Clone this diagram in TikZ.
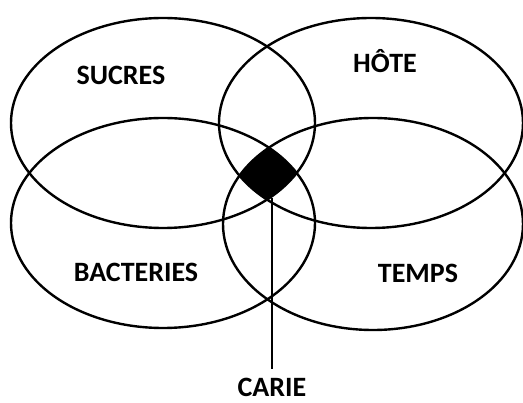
\documentclass[tikz,border=0pt]{standalone}
\usepackage{fontspec}
\setmainfont{Carlito}
\usetikzlibrary{shapes.geometric}

\begin{document}
\begin{tikzpicture}[x=1pt,y=-1pt,
        zone/.style={ellipse,draw,line width=2.4pt,inner sep=0pt,
            minimum width=304pt,minimum height=210pt},
        word/.style={font=\fontsize{28}{30}\selectfont\bfseries}]
    \useasboundingbox (0,0) rectangle (523,403);

    % Common part of the four sets
    \begin{scope}
        \clip (163,123) ellipse [x radius=152pt,y radius=105pt];
        \clip (371,123) ellipse [x radius=152pt,y radius=105pt];
        \clip (163,223) ellipse [x radius=152pt,y radius=105pt];
        \fill (373,224) ellipse [x radius=150pt,y radius=106pt];
    \end{scope}

    % Top row
    \node[zone] (sucres) at (163,123) {};
    \node[zone] (hote) at (371,123) {};

    % Bottom row
    \node[zone] (bacteries) at (163,223) {};
    \node[zone,minimum width=300pt,minimum height=212pt] (temps) at (373,224) {};

    % Labels
    \node[word] (lsucres) at (121,75) {SUCRES};
    \node[word] (lhote) at (385,61) {HÔTE};
    \node[word] (lbacteries) at (136,272) {BACTERIES};
    \node[word] (ltemps) at (418,273) {TEMPS};
    \node[word,inner sep=1pt] (carie) at (272,387) {CARIE};

    % Pointer to the black area
    \coordinate (tip) at (272,198);
    \draw[line width=2.4pt,shorten >=8pt] (tip) -- (carie);
\end{tikzpicture}
\end{document}
